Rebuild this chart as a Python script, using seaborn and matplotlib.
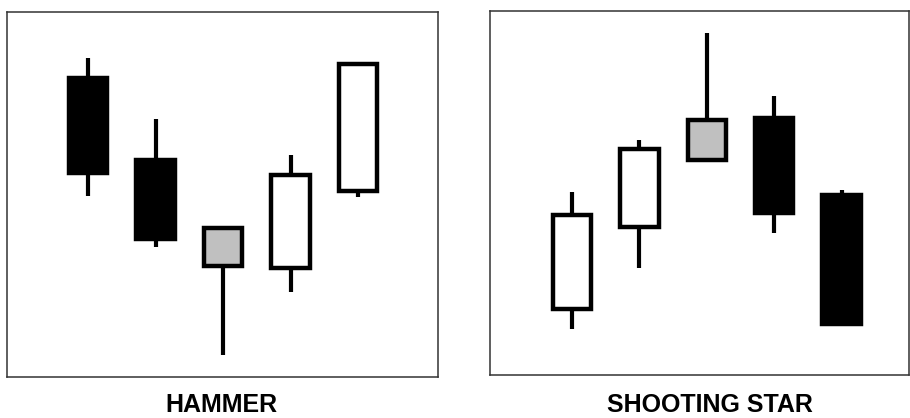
import matplotlib
matplotlib.use("Agg")
import matplotlib.pyplot as plt
import seaborn as sns
import pandas as pd

sns.set_theme(style="white")
plt.rcParams['font.family'] = ['Liberation Sans', 'DejaVu Sans']

# Data (price units: higher = up)
hammer_open  = [302, 220, 114, 112, 189]
hammer_close = [207, 141, 152, 205, 316]
hammer_high  = [322, 261, 152, 225, 316]
hammer_low   = [184, 133,  25,  88, 183]
hammer_kind  = ["bear", "bear", "star", "bull", "bull"]

star_open  = [ 71, 153, 220, 262, 185]
star_close = [165, 231, 260, 167,  56]
star_high  = [188, 240, 347, 284, 190]
star_low   = [ 51, 112, 220, 147,  56]
star_kind  = ["bull", "bull", "star", "bear", "bear"]

titles = ["HAMMER", "SHOOTING STAR"]

fill = {"bear": "black", "bull": "white", "star": "#c0c0c0"}

fig = plt.figure(figsize=(9.1, 4.18), dpi=100)
ax1 = fig.add_axes([7/910, 41/418, 431/910, 365/418])
ax2 = fig.add_axes([490/910, 43/418, 419/910, 364/418])


def draw(ax, o, c, h, l, kind, xlim, ylim):
    df = pd.DataFrame({"x": range(len(o)), "open": o, "close": c,
                       "high": h, "low": l, "kind": kind})
    df["top"] = df[["open", "close"]].max(axis=1)
    df["bot"] = df[["open", "close"]].min(axis=1)
    ax.vlines(df["x"], df["low"], df["high"], color="black", lw=3.0,
              capstyle="butt", zorder=1)
    ax.bar(df["x"], df["top"] - df["bot"], bottom=df["bot"], width=0.57,
           color=[fill[k] for k in df["kind"]], edgecolor="black",
           linewidth=3.2, zorder=2)
    ax.set_xlim(*xlim)
    ax.set_ylim(*ylim)
    ax.set_xticks([])
    ax.set_yticks([])
    for s in ax.spines.values():
        s.set_visible(True)
        s.set_color("#333333")
        s.set_linewidth(1.1)
    ax.set_facecolor("white")


draw(ax1, hammer_open, hammer_close, hammer_high, hammer_low, hammer_kind,
     (-1.2, 5.185), (3, 368))
draw(ax2, star_open, star_close, star_high, star_low, star_kind,
     (-1.217, 5.0), (5, 369))

fig.text(221/910, 1/418, titles[0], ha="center", va="bottom",
         fontsize=18, fontweight="bold", color="black")
fig.text(710/910, 1/418, titles[1], ha="center", va="bottom",
         fontsize=18, fontweight="bold", color="black")

fig.savefig("out.png", dpi=100, facecolor="white")
